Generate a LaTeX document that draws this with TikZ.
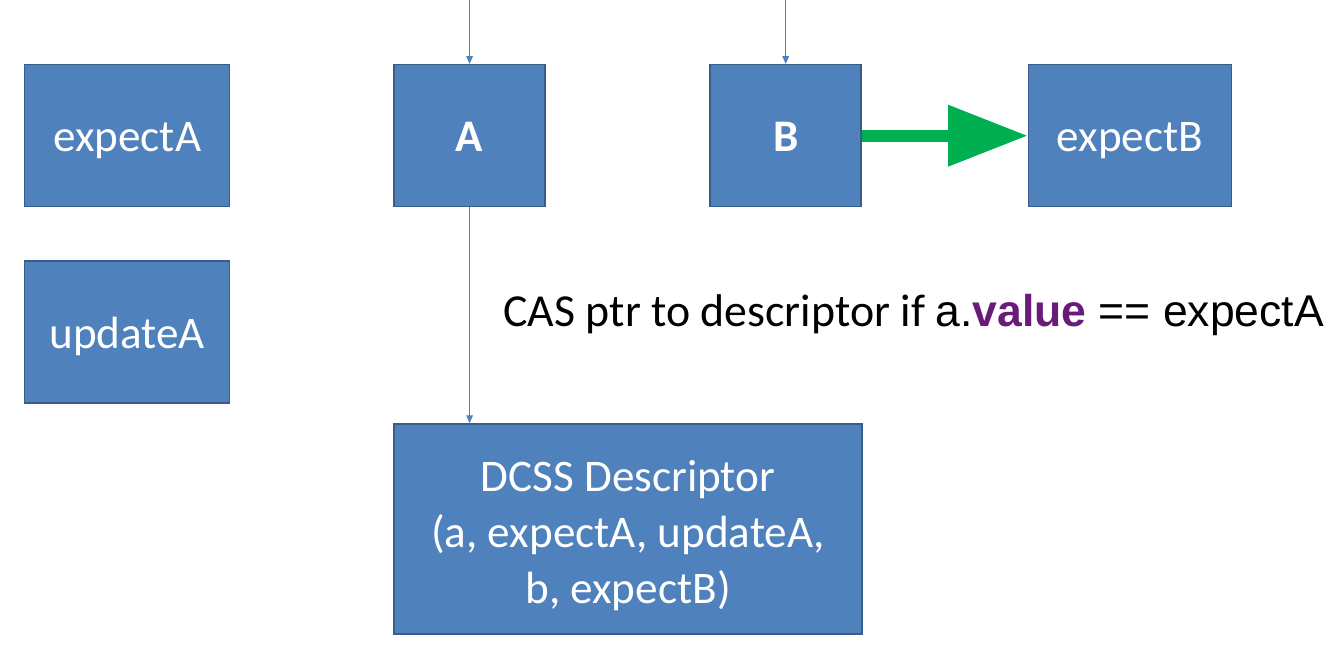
\documentclass[tikz,border=0pt]{standalone}
\usepackage{fontspec}
\setmainfont{Carlito}
\newfontfamily\arialfont{Liberation Sans}
\usetikzlibrary{positioning,arrows.meta}
\definecolor{boxfill}{RGB}{79,129,189}
\definecolor{boxline}{RGB}{56,93,138}
\definecolor{okgreen}{RGB}{0,176,80}
\definecolor{valpurple}{RGB}{106,27,122}

\tikzset{
  cell/.style={draw=boxline, fill=boxfill, line width=1.1pt, text=white,
    minimum height=3.757cm, inner sep=0pt, align=center,
    font=\fontsize{34}{42}\selectfont,
    execute at begin node={\rule[-8pt]{0pt}{40pt}}},
  wide/.style={cell, minimum width=5.424cm},
  narrow/.style={cell, minimum width=3.995cm,
    font=\fontsize{34}{42}\selectfont\bfseries},
  ptr/.style={draw=boxfill, line width=0.9pt, -{Triangle[length=6pt,width=5pt]}},
  push/.style={draw=okgreen, line width=9pt, -{Triangle[length=60pt,width=44pt]}},
  casnote/.style={inner sep=0pt, text=black, font=\fontsize{34.5}{40}\selectfont}
}

\begin{document}
\begin{tikzpicture}
    \useasboundingbox (0,0) rectangle (35.137,-17.145);

    % top row
    \node[wide, anchor=north west] (expA) at (0.635,-1.693) {expectA};
    \node[narrow, right=4.31cm of expA] (A) {A};
    \node[narrow, right=4.33cm of A] (B) {B};
    \node[wide, minimum width=5.371cm, right=4.39cm of B] (expB) {expectB};

    % left column and descriptor
    \node[wide, below=1.40cm of expA] (updA) {updateA};
    \node[cell, minimum width=12.38cm, minimum height=5.556cm,
          below=5.71cm of A.south west, anchor=north west] (dcss)
          {\rule{0pt}{36pt}DCSS Descriptor\\(a, expectA, updateA,\\b, expectB)};

    \coordinate (inA) at (A.north |- 0,0);
    \coordinate (inB) at (B.north |- 0,0);

    \draw[ptr] (inA) -- (A);
    \draw[ptr] (inB) -- (B);
    \draw[ptr] (A) -- node[casnote, right=0.88cm] (cas)
        {CAS ptr to descriptor if {\arialfont\fontsize{33.5}{38}\selectfont a.\textcolor{valpurple}{\bfseries value} == expectA}}
        (A.south |- dcss.north);
    \draw[push] (B) -- (expB);
\end{tikzpicture}
\end{document}
